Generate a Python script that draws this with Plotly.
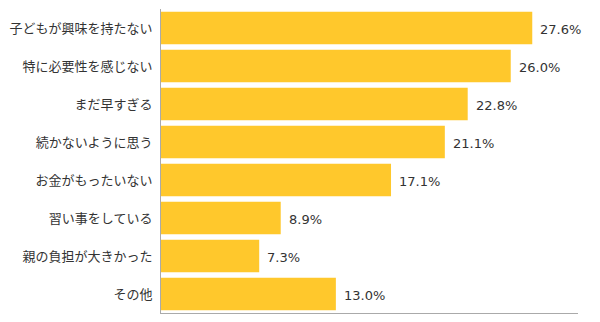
import plotly.graph_objects as go

# Survey reasons (top to bottom) and share of respondents (%)
categories = [
    "子どもが興味を持たない",
    "特に必要性を感じない",
    "まだ早すぎる",
    "続かないように思う",
    "お金がもったいない",
    "習い事をしている",
    "親の負担が大きかった",
    "その他",
]
values = [27.6, 26.0, 22.8, 21.1, 17.1, 8.9, 7.3, 13.0]
value_labels = [f"{v:.1f}%" for v in values]

fig = go.Figure(
    go.Bar(
        x=values,
        y=categories,
        orientation="h",
        marker=dict(color="#FFC82C", line=dict(width=0)),
        hoverinfo="skip",
    )
)

for cat, v, lab in zip(categories, values, value_labels):
    fig.add_annotation(
        x=v, y=cat, text=lab, showarrow=False,
        xanchor="left", xshift=6, yshift=-1,
        font=dict(family="DejaVu Sans", size=13, color="#333333"),
    )

fig.update_layout(
    width=600, height=322,
    margin=dict(l=157, r=22, t=9, b=9),
    paper_bgcolor="white", plot_bgcolor="white",
    bargap=0.15,
    showlegend=False,
    xaxis=dict(
        range=[0, 31], showgrid=False, zeroline=False,
        showticklabels=False, ticks="",
        showline=True, linecolor="#AAAAAA", linewidth=1,
    ),
    yaxis=dict(
        categoryorder="array", categoryarray=categories[::-1],
        showgrid=False, zeroline=False, ticks="",
        showline=True, linecolor="#AAAAAA", linewidth=1,
        ticklabelstandoff=5,
        tickfont=dict(family="Noto Sans CJK JP", size=13, color="#333333"),
    ),
)

fig.write_html("out.html")
